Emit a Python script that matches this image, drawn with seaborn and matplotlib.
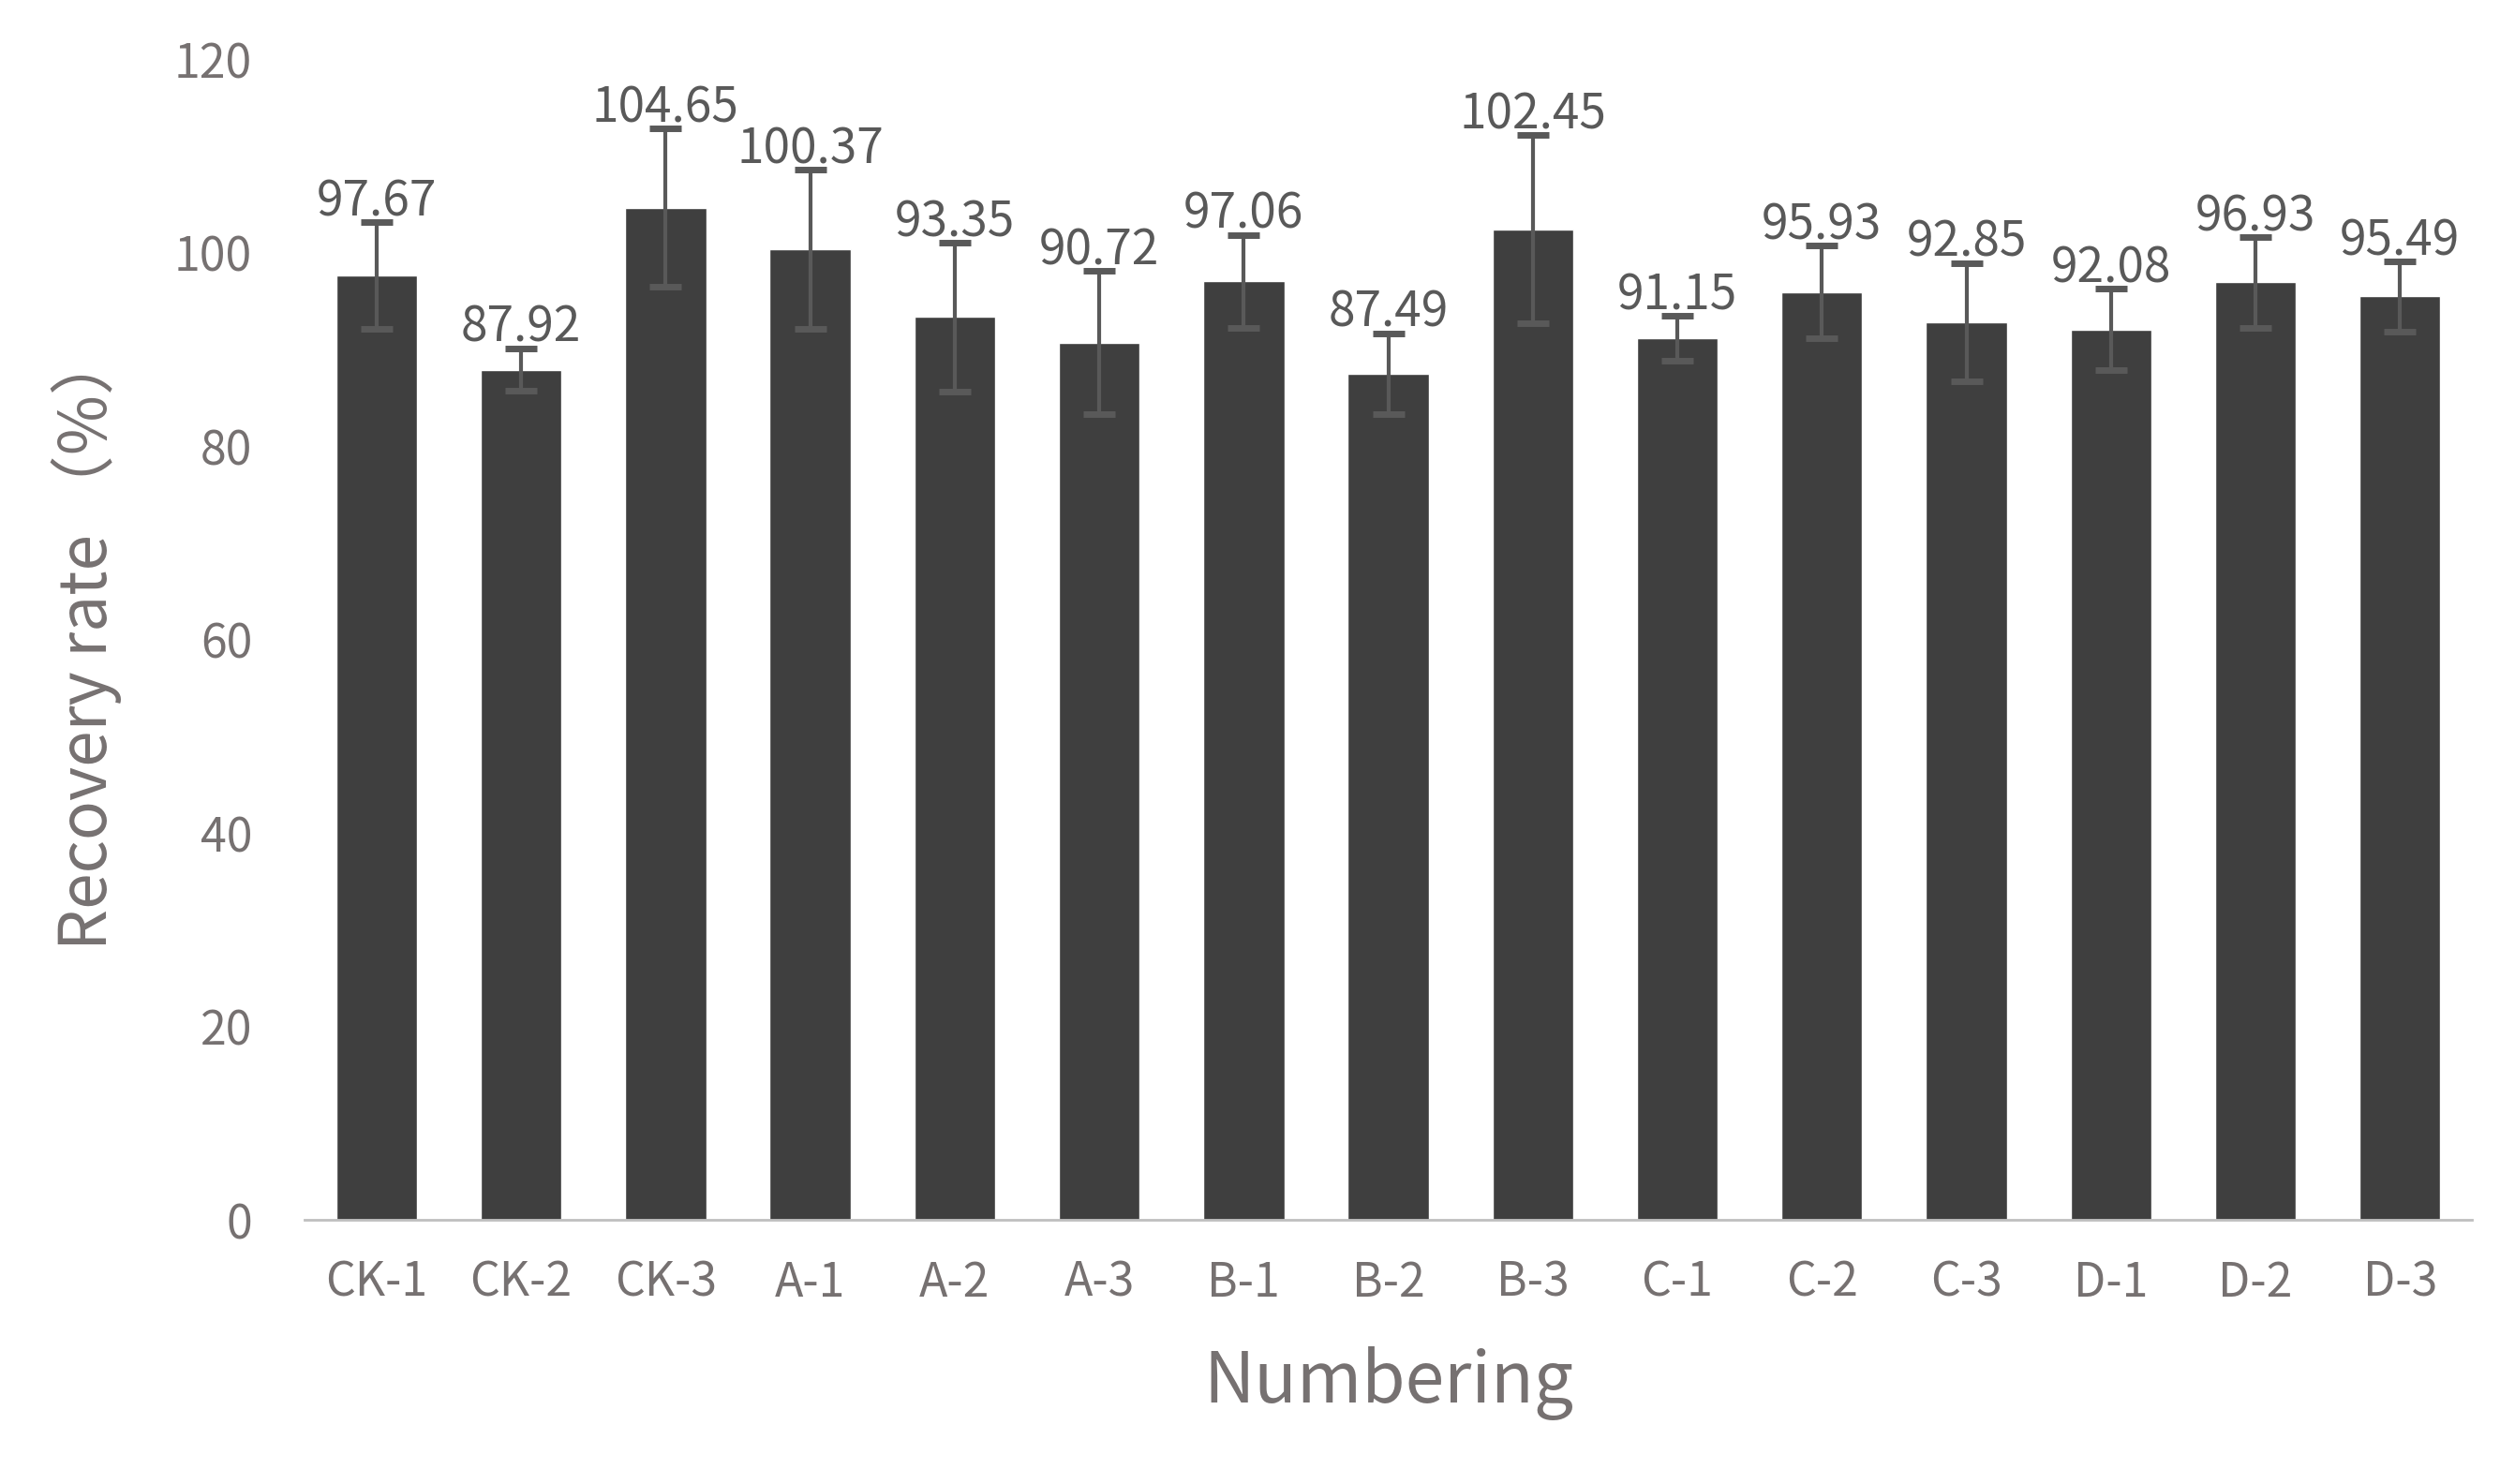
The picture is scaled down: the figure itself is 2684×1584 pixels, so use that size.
import matplotlib
matplotlib.use("Agg")
import matplotlib.pyplot as plt
import seaborn as sns
import pandas as pd

categories = ["CK-1","CK-2","CK-3","A-1","A-2","A-3","B-1","B-2","B-3","C-1","C-2","C-3","D-1","D-2","D-3"]
values = [97.67,87.92,104.65,100.37,93.35,90.72,97.06,87.49,102.45,91.15,95.93,92.85,92.08,96.93,95.49]
errors = [5.5,2.2,8.2,8.2,7.7,7.4,4.8,4.2,9.7,2.3,4.8,6.1,4.2,4.7,3.6]

sns.set_theme(style="white")
plt.rcParams['font.family'] = ['Noto Sans CJK SC', 'DejaVu Sans']
grey = "#767171"

df = pd.DataFrame({"cat": categories, "val": values})
fig = plt.figure(figsize=(26.84, 15.84), dpi=100)
ax = fig.add_axes([0.121, 0.178, 0.862, 0.782])
sns.barplot(data=df, x="cat", y="val", color="#3f3f3f", saturation=1, width=0.56, ax=ax, errorbar=None)
xs = range(len(categories))
ax.errorbar(list(xs), values, yerr=errors, fmt="none", ecolor="#595959", elinewidth=3, capsize=12, capthick=5)
for x, v, e in zip(xs, values, errors):
    ax.text(x, v + e - 0.5, f"{v:.2f}", ha="center", va="bottom", fontsize=37, color="#595959")
ax.set_ylim(0, 120)
ax.set_yticks(range(0, 121, 20))
ax.set_xlim(-0.5, len(categories) - 0.5)
for s in ["top", "right", "left"]:
    ax.spines[s].set_visible(False)
ax.spines["bottom"].set_color("#bfbfbf")
ax.spines["bottom"].set_linewidth(2)
ax.tick_params(axis="both", labelsize=36, colors=grey, length=0)
ax.tick_params(axis="x", pad=30)
ax.tick_params(axis="y", pad=40)
ax.set_xlabel("Numbering", fontsize=54, color=grey, labelpad=30)
ax.set_ylabel("Recovery rate （%）", fontsize=50, color=grey, labelpad=40)
fig.savefig("out.png", dpi=100)
